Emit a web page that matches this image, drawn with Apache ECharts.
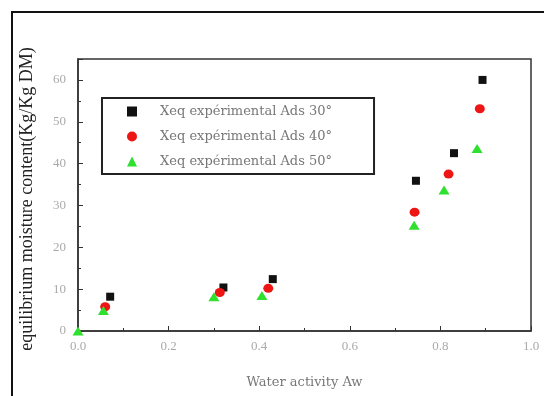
<!DOCTYPE html>
<html><head><meta charset="utf-8">
<script src="https://cdn.jsdelivr.net/npm/echarts@6/dist/echarts.min.js"></script>
<style>html,body{margin:0;padding:0;background:#fff}#c{width:544px;height:396px}</style>
</head><body><div id="c"></div>
<script>
var seriesNames = ['Xeq expérimental Ads 30°', 'Xeq expérimental Ads 40°', 'Xeq expérimental Ads 50°'];
var aw30 = [0.071, 0.321, 0.430, 0.746, 0.830, 0.893];
var xeq30 = [8.2, 10.4, 12.4, 35.9, 42.5, 60.0];
var aw40 = [0.060, 0.313, 0.420, 0.743, 0.818, 0.887];
var xeq40 = [5.8, 9.2, 10.2, 28.4, 37.5, 53.1];
var aw50 = [0.0, 0.056, 0.300, 0.406, 0.742, 0.808, 0.881];
var xeq50 = [0.0, 4.9, 8.2, 8.5, 25.3, 33.7, 43.6];
var xTicks = ['0.0', '0.2', '0.4', '0.6', '0.8', '1.0'];
var yTicks = ['0', '10', '20', '30', '40', '50', '60'];

function pairs(xs, ys) { return xs.map(function (x, i) { return [x, ys[i]]; }); }

var chart = echarts.init(document.getElementById('c'));
var serif = '"Liberation Serif", "DejaVu Serif", serif';
var wide = '"DejaVu Serif", serif';
chart.setOption({
  animation: false,
  backgroundColor: '#fff',
  graphic: [{
    type: 'rect', silent: true, z: -1,
    shape: { x: 12, y: 12, width: 600, height: 500 },
    style: { fill: null, stroke: '#111', lineWidth: 2 }
  }],
  grid: { left: 78, right: 13, top: 59, bottom: 65, show: true, borderColor: '#333', borderWidth: 1.5 },
  legend: {
    orient: 'vertical', left: 102, top: 98,
    borderColor: '#222', borderWidth: 2, backgroundColor: '#fff',
    padding: [7, 42, 6, 25], itemGap: 12, itemWidth: 10, itemHeight: 10,
    textStyle: { fontFamily: wide, fontSize: 13, color: '#777', padding: [0, 0, 0, 18] },
    data: [
      { name: seriesNames[0], icon: 'rect' },
      { name: seriesNames[1], icon: 'circle' },
      { name: seriesNames[2], icon: 'triangle' }
    ]
  },
  xAxis: {
    type: 'value', min: 0, max: 1, interval: 0.2,
    name: 'Water activity Aw', nameLocation: 'middle', nameGap: 45,
    nameTextStyle: { fontFamily: wide, fontSize: 13, color: '#777' },
    axisLine: { show: true, lineStyle: { color: '#333', width: 1.5 } },
    axisTick: { show: true, inside: true, length: 5, lineStyle: { color: '#333' } },
    minorTick: { show: true, splitNumber: 2, length: 3, lineStyle: { color: '#333' } },
    splitLine: { show: false },
    axisLabel: {
      margin: 9, fontFamily: serif, fontSize: 13, color: '#aaa',
      formatter: function (v) { return xTicks[Math.round(v / 0.2)]; }
    }
  },
  yAxis: {
    type: 'value', min: 0, max: 65, interval: 10,
    name: 'equilibrium moisture content(Kg/Kg DM)', nameLocation: 'middle', nameGap: 42,
    nameTextStyle: { fontFamily: serif, fontSize: 18, color: '#222', padding: [0, 8, 0, 0] },
    axisLine: { show: true, lineStyle: { color: '#333', width: 1.5 } },
    axisTick: { show: true, inside: true, length: 5, lineStyle: { color: '#333' } },
    minorTick: { show: true, splitNumber: 2, length: 3, lineStyle: { color: '#333' } },
    splitLine: { show: false },
    axisLabel: {
      margin: 12, fontFamily: serif, fontSize: 13, color: '#aaa', showMaxLabel: false,
      formatter: function (v) { var i = Math.round(v / 10); return (v % 10 === 0 && yTicks[i]) ? yTicks[i] : ''; }
    }
  },
  series: [
    { name: seriesNames[0], type: 'scatter', symbol: 'rect', symbolSize: 8,
      itemStyle: { color: '#111', opacity: 1 }, data: pairs(aw30, xeq30), z: 3 },
    { name: seriesNames[1], type: 'scatter', symbol: 'circle', symbolSize: [10, 9],
      itemStyle: { color: '#ee1515', opacity: 1 }, data: pairs(aw40, xeq40), z: 4 },
    { name: seriesNames[2], type: 'scatter', symbol: 'triangle', symbolSize: [11, 9],
      itemStyle: { color: '#2fe02f', opacity: 1 }, data: pairs(aw50, xeq50), z: 5 }
  ]
});
</script></body></html>
